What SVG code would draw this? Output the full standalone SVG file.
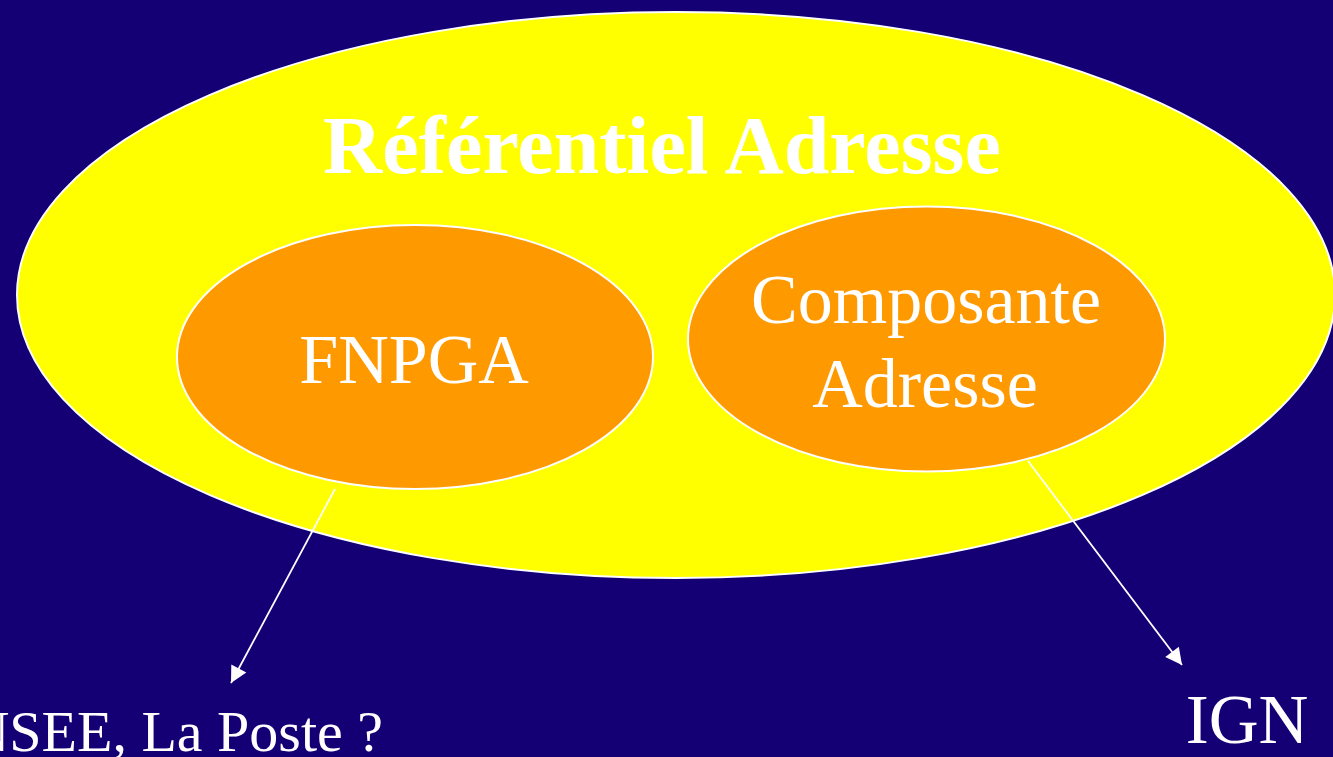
<svg xmlns="http://www.w3.org/2000/svg" width="1333" height="757" viewBox="0 0 1333 757">
<style>
.serif{font-family:"Liberation Serif","Times New Roman",serif;fill:#ffffff}
.big{font-size:82px;font-weight:bold}
.lbl{font-size:70px}
.conn{stroke:#ffffff;stroke-width:1.8;fill:none}
</style>
<defs>
<marker id="ah" markerUnits="userSpaceOnUse" markerWidth="20" markerHeight="20" viewBox="-17 -10 19 20" refX="0" refY="0" orient="auto">
<path d="M0,0 L-16.5,-8.5 L-16.5,8.5 z" fill="#ffffff"/>
</marker>
</defs>
<rect x="0" y="0" width="1333" height="757" fill="#140074"/>
<g id="referentiel">
<ellipse cx="676" cy="295" rx="659" ry="283" fill="#ffff00" stroke="#ffffff" stroke-width="2"/>
<text class="serif big" x="662" y="173" text-anchor="middle">Référentiel Adresse</text>
</g>
<g id="fnpga">
<ellipse cx="415" cy="357" rx="238" ry="132" fill="#ff9900" stroke="#ffffff" stroke-width="2"/>
<text class="serif lbl" x="414" y="383" text-anchor="middle">FNPGA</text>
</g>
<g id="composante">
<ellipse cx="926.5" cy="339" rx="238.5" ry="132.5" fill="#ff9900" stroke="#ffffff" stroke-width="2"/>
<text class="serif lbl" x="926" y="323" text-anchor="middle">Composante</text>
<text class="serif lbl" x="925" y="407" text-anchor="middle">Adresse</text>
</g>
<g id="connectors">
<line class="conn" x1="335" y1="489" x2="231" y2="683" marker-end="url(#ah)"/>
<line class="conn" x1="1028" y1="461" x2="1182" y2="665" marker-end="url(#ah)"/>
</g>
<g id="insee">
<text class="serif" style="font-size:58px" x="383" y="751" text-anchor="end">INSEE, La Poste ?</text>
</g>
<g id="ign">
<text class="serif" style="font-size:69px" x="1247" y="743" text-anchor="middle">IGN</text>
</g>
</svg>
